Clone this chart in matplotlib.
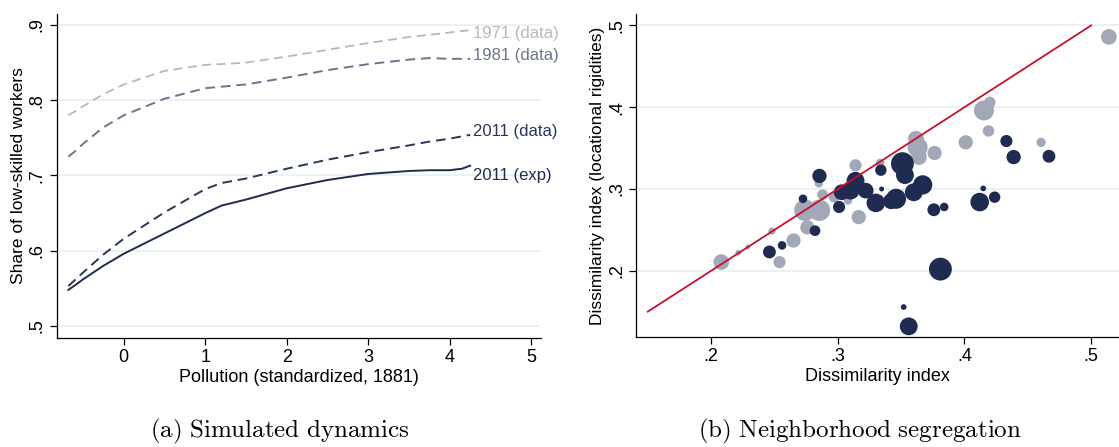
import numpy as np
import matplotlib.pyplot as plt

plt.rcParams['font.family'] = ['Liberation Sans', 'DejaVu Sans']
plt.rcParams['mathtext.fontset'] = 'cm'

# (a) simulated dynamics: share of low-skilled workers by 1881 pollution
pollution = [-0.68, -0.6, -0.5, -0.25, 0.0, 0.5, 1.0, 1.2, 1.5, 2.0, 2.5, 3.0, 3.5, 3.75, 4.0, 4.15, 4.25]
share_1971 = [0.780, 0.785, 0.792, 0.808, 0.821, 0.839, 0.847, 0.848, 0.850, 0.858, 0.867, 0.876, 0.884, 0.887, 0.890, 0.892, 0.893]
share_1981 = [0.725, 0.732, 0.742, 0.764, 0.780, 0.802, 0.816, 0.818, 0.821, 0.830, 0.840, 0.848, 0.854, 0.856, 0.855, 0.855, 0.855]
share_2011 = [0.553, 0.561, 0.571, 0.595, 0.616, 0.651, 0.682, 0.690, 0.696, 0.709, 0.721, 0.731, 0.740, 0.745, 0.749, 0.752, 0.754]
share_2011_exp = [0.548, 0.554, 0.562, 0.580, 0.596, 0.623, 0.650, 0.660, 0.668, 0.683, 0.694, 0.702, 0.706, 0.707, 0.707, 0.709, 0.713]
line_labels = ['1971 (data)', '1981 (data)', '2011 (data)', '2011 (exp)']

# (b) dissimilarity index vs. index with locational rigidities
gray_x = [0.208, 0.2214, 0.229, 0.248, 0.254, 0.265, 0.276, 0.274, 0.2855, 0.285, 0.288, 0.297,
          0.308, 0.314, 0.3165, 0.3335, 0.3617, 0.363, 0.364, 0.3764, 0.401, 0.4154, 0.420, 0.419,
          0.4605, 0.514]
gray_y = [0.2106, 0.222, 0.229, 0.2485, 0.2106, 0.237, 0.253, 0.274, 0.274, 0.307, 0.293, 0.290,
          0.286, 0.329, 0.2656, 0.3317, 0.3614, 0.351, 0.339, 0.344, 0.357, 0.396, 0.406, 0.371,
          0.357, 0.486]
gray_r = [22, 8, 7, 10, 17, 20, 20, 30, 30, 12, 15, 15, 12, 17, 20, 12, 22, 28, 22, 20, 20, 28,
          16, 16, 13, 22]

navy_x = [0.246, 0.256, 0.2725, 0.282, 0.2855, 0.301, 0.303, 0.310, 0.314, 0.322, 0.330, 0.334,
          0.3346, 0.342, 0.346, 0.351, 0.353, 0.360, 0.367, 0.3758, 0.384, 0.352, 0.356, 0.381,
          0.412, 0.4148, 0.4238, 0.4331, 0.4388, 0.4667]
navy_y = [0.223, 0.231, 0.288, 0.249, 0.316, 0.278, 0.296, 0.298, 0.310, 0.298, 0.283, 0.323,
          0.300, 0.285, 0.288, 0.331, 0.317, 0.296, 0.305, 0.2746, 0.278, 0.1556, 0.132, 0.202,
          0.284, 0.3007, 0.290, 0.3586, 0.339, 0.340]
navy_r = [18, 12, 12, 15, 20, 17, 22, 25, 25, 22, 26, 16, 7, 22, 28, 32, 25, 25, 27, 18, 12, 8,
          25, 32, 26, 8, 16, 17, 20, 18]

gray = '#a3a8b8'
navy = '#1f2b50'
grid = '#e9f1f2'

fig = plt.figure(figsize=(11.19, 4.47), dpi=100)
ax1 = fig.add_axes([0.0509, 0.2438, 0.4326, 0.7249])
ax2 = fig.add_axes([0.5684, 0.2461, 0.4316, 0.7226])

for ax in (ax1, ax2):
    for s in ('top', 'right'):
        ax.spines[s].set_visible(False)
    ax.spines['left'].set_linewidth(0.9)
    ax.spines['bottom'].set_linewidth(0.9)
    ax.tick_params(direction='out', length=5, width=0.9, labelsize=13, pad=3)
    ax.yaxis.grid(True, color=grid, linewidth=1.3)
    ax.set_axisbelow(True)

# left panel
ax1.plot(pollution, share_1971, color='#b4b8c4', lw=1.3, dashes=(5, 3))
ax1.plot(pollution, share_1981, color='#6d748d', lw=1.4, dashes=(5, 3))
ax1.plot(pollution, share_2011, color='#2a3558', lw=1.4, dashes=(5, 3))
ax1.plot(pollution, share_2011_exp, color='#1f2a4e', lw=1.4)
label_y = [0.889, 0.860, 0.759, 0.700]
label_c = ['#b4b8c4', '#6d748d', '#2a3558', '#1f2a4e']
for txt, yy, cc in zip(line_labels, label_y, label_c):
    ax1.text(4.29, yy, txt, color=cc, fontsize=12, va='center', ha='left', clip_on=False)
ax1.set_xlim(-0.82, 5.12)
ax1.set_ylim(0.484, 0.9146)
ax1.set_xticks([0, 1, 2, 3, 4, 5])
ax1.set_yticks([0.5, 0.6, 0.7, 0.8, 0.9])
ax1.set_yticklabels(['.5', '.6', '.7', '.8', '.9'], rotation=90, va='center')
ax1.set_xlabel('Pollution (standardized, 1881)', fontsize=13, labelpad=2)
ax1.set_ylabel('Share of low-skilled workers', fontsize=12.5, labelpad=2)

# right panel
px = 0.72  # points per pixel at 100 dpi
ax2.scatter(gray_x, gray_y, s=[(2 * r / 2.8 * px) ** 2 for r in gray_r], color=gray,
            edgecolors='none', zorder=2, clip_on=False)
ax2.scatter(navy_x, navy_y, s=[(2 * r / 2.8 * px) ** 2 for r in navy_r], color=navy,
            edgecolors='none', zorder=3)
ax2.plot([0.15, 0.5], [0.15, 0.5], color='#c8102e', lw=1.3, zorder=4)
ax2.set_xlim(0.1407, 0.522)
ax2.set_ylim(0.119, 0.514)
ax2.set_xticks([0.2, 0.3, 0.4, 0.5])
ax2.set_xticklabels(['.2', '.3', '.4', '.5'])
ax2.set_yticks([0.2, 0.3, 0.4, 0.5])
ax2.set_yticklabels(['.2', '.3', '.4', '.5'], rotation=90, va='center')
ax2.set_xlabel('Dissimilarity index', fontsize=13, labelpad=2)
ax2.set_ylabel('Dissimilarity index (locational rigidities)', fontsize=12.5, labelpad=2)

fig.text(0.250, 0.022, r'$\mathrm{(a)\ Simulated\ dynamics}$', ha='center', fontsize=18)
fig.text(0.7686, 0.022, r'$\mathrm{(b)\ Neighborhood\ segregation}$', ha='center', fontsize=18)

fig.savefig('out.png', dpi=100)
